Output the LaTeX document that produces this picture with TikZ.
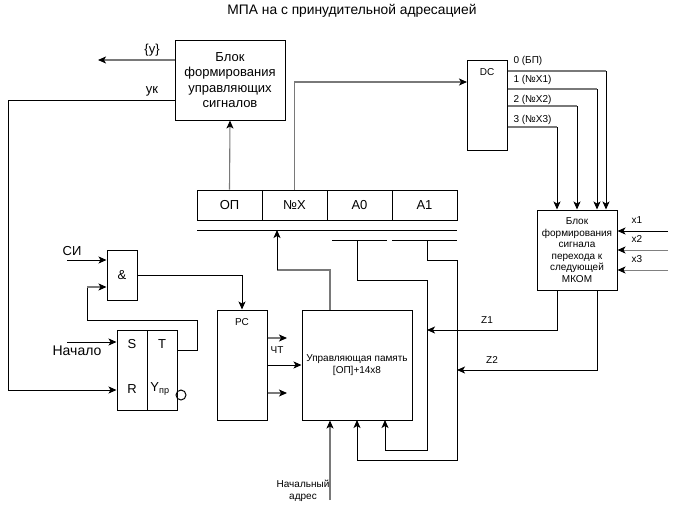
\documentclass[tikz,border=0pt]{standalone}
\usepackage{fontspec}
\setmainfont{Liberation Sans}
\usetikzlibrary{arrows.meta,positioning}

\tikzset{
  box/.style={draw, line width=1pt, inner sep=1pt, align=center},
  wire/.style={line width=1pt},
  gwire/.style={line width=1.1pt, draw=gray!95!black},
  arr/.style={-{Stealth[length=8pt,width=7pt,inset=2pt,color=black]}},
  big/.style={font=\fontsize{13}{15.5}\selectfont},
  small/.style={font=\fontsize{10}{12}\selectfont},
}

\begin{document}
\begin{tikzpicture}[x=1pt,y=-1pt]
    \useasboundingbox (0,0) rectangle (676,509);
    % Title
    \node[font=\fontsize{13.8}{16}\selectfont] (title) at (352,11) {МПА на с принудительной адресацией};
    % Blocks
    \node[box,big,minimum width=110pt,minimum height=80pt] (ctl) at (230,80)
        {Блок\\формирования\\управляющих\\сигналов};
    \node[box,big,minimum width=65pt,minimum height=30pt] (op) at (229.5,205) {ОП};
    \node[box,big,minimum width=65pt,minimum height=30pt] (nx) at (294.5,205) {№X};
    \node[box,big,minimum width=65pt,minimum height=30pt] (a0) at (359.5,205) {A0};
    \node[box,big,minimum width=65pt,minimum height=30pt] (a1) at (424.5,205) {A1};
    \node[box,minimum width=40pt,minimum height=90pt] (dc) at (487,105) {};
    \node[small] (dclbl) at (487,72) {DC};
    \node[box,small,minimum width=80pt,minimum height=80pt,font=\fontsize{10}{11.5}\selectfont] (trans) at (577,250)
        {Блок\\формирования\\сигнала\\перехода к\\следующей\\МКОМ};
    \node[box,small,minimum width=110pt,minimum height=110pt] (mem) at (357,365)
        {Управляющая память\\{[ОП]}+14x8};
    \node[box,minimum width=50pt,minimum height=110pt] (pc) at (242,365) {};
    \node[small] (pclbl) at (242,322) {РС};
    \node[box,big,minimum width=30pt,minimum height=50pt] (andg) at (122,275) {\&};
    \node[box,minimum width=30pt,minimum height=80pt] (trigs) at (132,370) {};
    \node[box,minimum width=30pt,minimum height=80pt] (trigt) at (162,370) {};
    \node[circle,draw,line width=1pt,minimum size=10pt,inner sep=0pt] (inv) at (181,395) {};
    % Trigger labels
    \node[big] (slbl) at (132,344) {S};
    \node[big] (rlbl) at (132,389) {R};
    \node[big] (tlbl) at (162,344) {T};
    \node[big] (ylbl) at (160,389) {Y\textsubscript{пр}};
    % Outputs of the control block
    \coordinate (yout) at (98,60);
    \coordinate (ukl) at (8,100);
    \coordinate (rin) at (8,390);
    \draw[gwire,arr] (ctl.west |- yout) -- (yout);
    \node[big] (ylab) at (152,50) {\{y\}};
    \draw[wire,arr] (ctl.west |- ukl) -- (ukl) -- (rin) -- (trigs.west |- rin);
    \node[big] (uklab) at (152,91) {ук};
    % Register to control block and DC
    \coordinate (dcin) at (467,82);
    \draw[gwire,arr] (op.north) -- (ctl.south);
    \draw[gwire,arr] (nx.north) |- (dcin);
    % DC outputs
    \foreach \yy/\xx/\ly/\t in {71/606/61/0 (БП),89/597/80/1 (№X1),106/577/100/2 (№X2),127/557/120/3 (№X3)}{
        \draw[gwire] (dc.east |- 0,\yy) -- (\xx,\yy);
        \draw[wire,arr] (\xx,\yy) -- (trans.north -| \xx,0);
        \node[small,anchor=west] at (510,\ly) {\t};
    }
    % Inputs x1..x3
    \foreach \yy/\t/\c in {231/x1/black,250/x2/gray,270/x3/gray}{
        \draw[line width=1pt,draw=\c,arr] (668,\yy) -- (trans.east |- 0,\yy);
        \node[small] at (637,\yy-11) {\t};
    }
    % Buses under the register
    \coordinate (bus1l) at (197,230);
    \coordinate (bus1r) at (457,230);
    \draw[wire] (bus1l) -- (bus1r);
    \draw[wire] (332,240) -- (387,240);
    \draw[wire] (392,240) -- (457,240);
    % Memory to register
    \coordinate (mtop) at (330,310);
    \draw[gwire] (mtop) -- (330,270) -- (277,270);
    \draw[wire,arr] (277,270) -- (277,230);
    % Address feedback
    \draw[wire,arr] (357,240) -- (357,280) -- (427,280) -- (427,450) -- (385,450) -- (385,420);
    \draw[wire,arr] (427,240) -- (427,260) -- (457,260) -- (457,460) -- (357,460) -- (357,420);
    % Z1, Z2
    \draw[wire,arr] (trans.south -| 557,0) -- (557,330) -- (427,330);
    \node[small] (z1) at (487,320) {Z1};
    \draw[wire,arr] (trans.south -| 597,0) -- (597,370) -- (457,370);
    \node[small] (z2) at (492,360) {Z2};
    % Start address
    \coordinate (adr) at (330,500);
    \draw[gwire,arr] (adr) -- (adr |- mem.south);
    \node[small,align=center] (adrlbl) at (303,491) {Начальный\\адрес};
    % PC outputs
    \draw[gwire,arr] (pc.east |- 0,338) -- (287,338);
    \draw[wire,arr] (pc.east) -- (mem.west);
    \draw[gwire,arr] (pc.east |- 0,393) -- (287,393);
    \node[small] (rd) at (277,350) {ЧТ};
    % AND gate and trigger
    \draw[wire,arr] (andg.east) -| (pc.north);
    \draw[wire,arr] (67,260) -- (andg.west |- 0,260);
    \node[big] (si) at (72,251) {СИ};
    \draw[wire] (trigt.east |- 0,350) -- (197,350) -- (197,320) -- (87,320) -- (87,287);
    \draw[gwire,arr] (87,287) -- (andg.west |- 0,287);
    \draw[wire,arr] (67,342) -- (trigs.west |- 0,342);
    \node[font=\fontsize{14}{16}\selectfont] (start) at (77,351) {Начало};
\end{tikzpicture}
\end{document}
